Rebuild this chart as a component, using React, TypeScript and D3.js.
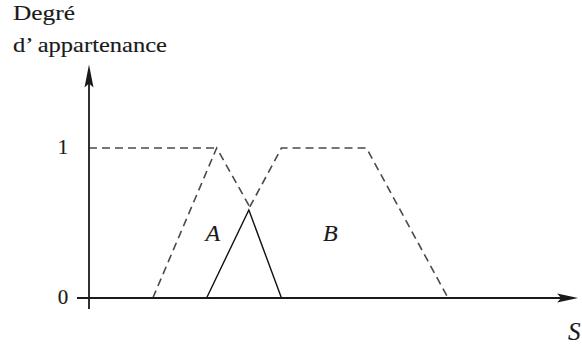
import React from "react";
import * as d3 from "d3";

// Membership functions (S in arbitrary units 0..100, degree 0..1)
const setA_rise: [number, number][] = [[13.3, 0], [26.6, 1], [33.5, 0.607]];
const setA_top: [number, number][] = [[0, 1], [26.6, 1]];
const setB: [number, number][] = [[33.5, 0.607], [40.1, 1], [57.8, 1], [74.8, 0]];
const result: [number, number][] = [[24.5, 0], [33.3, 0.587], [40.1, 0]];
const yTicks = [0, 1];
const setLabels = [
  { name: "A", s: 25.8, d: 0.43 },
  { name: "B", s: 50.3, d: 0.43 },
];

const W = 582;
const H = 351;
const FONT = "Liberation Serif";

export default function App() {
  const x = d3.scaleLinear().domain([0, 100]).range([89, 569]);
  const y = d3.scaleLinear().domain([0, 1]).range([298, 148]);
  const line = d3
    .line<[number, number]>()
    .x((d) => x(d[0]))
    .y((d) => y(d[1]));

  const axisColor = "#1a1a1a";
  const dashColor = "#4a4a4a";
  const x0 = x(0);
  const y0 = y(0);
  const xEnd = x(101.9);
  const yTop = y(1.557);
  const ts = { fontFamily: FONT };
  const textInk = { fill: "#1a1a1a", stroke: "#1a1a1a", strokeWidth: 0.15 };

  return (
    <svg
      width={W}
      height={H}
      style={{ position: "absolute", left: 0, top: 0, background: "#fff" }}
    >
      {/* Axis title */}
      <text x={13} y={20} fontSize={22} {...textInk} style={ts} textLength={62} lengthAdjust="spacingAndGlyphs">
        Degré
      </text>
      <text x={13} y={52} fontSize={22} {...textInk} style={ts} textLength={154} lengthAdjust="spacingAndGlyphs">
        d’ appartenance
      </text>

      {/* Dashed membership functions */}
      <g fill="none" stroke={dashColor} strokeWidth={1.6} strokeDasharray="8,5">
        <path d={line(setA_top) || ""} />
        <path d={line(setA_rise) || ""} />
        <path d={line(setB) || ""} />
      </g>

      {/* Resulting solid triangle */}
      <path d={line(result) || ""} fill="none" stroke="#111" strokeWidth={1.4} />

      {/* Axes */}
      <line x1={x(-2.5)} y1={y0} x2={xEnd - 12} y2={y0} stroke={axisColor} strokeWidth={1.8} />
      <line x1={x0} y1={y(-0.073)} x2={x0} y2={yTop + 12} stroke={axisColor} strokeWidth={1.8} />
      <path
        d={`M${x0},${yTop} L${x0 - 4.5},${yTop + 23} L${x0},${yTop + 19} L${x0 + 4.5},${yTop + 23} Z`}
        fill={axisColor}
      />
      <path
        d={`M${xEnd},${y0} L${xEnd - 21},${y0 - 4.5} L${xEnd - 17},${y0} L${xEnd - 21},${y0 + 4.5} Z`}
        fill={axisColor}
      />

      {/* Y tick labels */}
      {yTicks.map((t) => (
        <text key={t} x={63} y={y(t) + 6} fontSize={21} textAnchor="middle" {...textInk} style={ts}>
          {t}
        </text>
      ))}

      {/* Set labels */}
      {setLabels.map((l) => (
        <text
          key={l.name}
          x={x(l.s)}
          y={y(l.d) + 7}
          fontSize={24}
          fontStyle="italic"
          textAnchor="middle"
          {...textInk}
          style={ts}
        >
          {l.name}
        </text>
      ))}

      {/* X axis label */}
      <text x={568} y={340} fontSize={25} fontStyle="italic" {...textInk} style={ts}>
        S
      </text>
    </svg>
  );
}
